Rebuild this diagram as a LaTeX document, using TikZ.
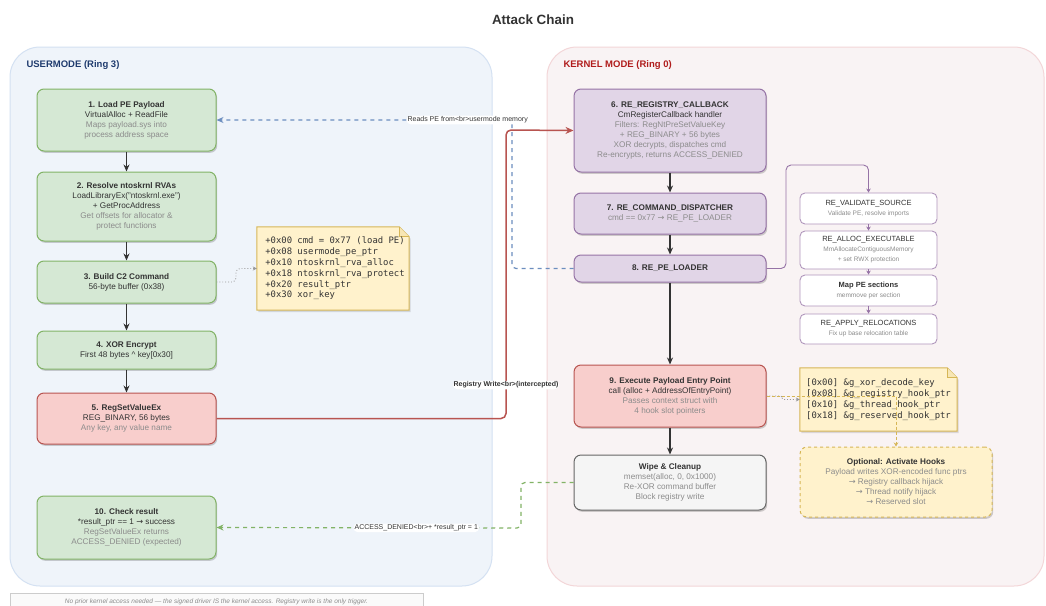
\documentclass[tikz,border=0pt]{standalone}
\usepackage{fontspec}
\setmainfont{Liberation Sans}
\newfontfamily\monof{DejaVu Sans Mono}
\newfontfamily\dvs{DejaVu Sans}
\usetikzlibrary{arrows.meta,shadows}
\definecolor{userfill}{HTML}{EFF4FA}
\definecolor{userline}{HTML}{D4E1F2}
\definecolor{kernfill}{HTML}{F9F3F4}
\definecolor{kernline}{HTML}{F3D6D8}
\definecolor{gfill}{HTML}{D5E8D4}
\definecolor{gline}{HTML}{82B366}
\definecolor{rfill}{HTML}{F8CECC}
\definecolor{rline}{HTML}{B85450}
\definecolor{pfill}{HTML}{E1D5E7}
\definecolor{pline}{HTML}{9673A6}
\definecolor{wfill}{HTML}{F5F5F5}
\definecolor{wline}{HTML}{666666}
\definecolor{yfill}{HTML}{FFF2CC}
\definecolor{yline}{HTML}{D6B656}
\definecolor{txtdark}{HTML}{333333}
\definecolor{txtgray}{HTML}{8C8C8C}
\definecolor{bluel}{HTML}{6C8EBF}
\definecolor{usertitle}{HTML}{1F3B6E}
\definecolor{kerntitle}{HTML}{B01C1C}
\newcommand{\gr}[1]{{\color{txtgray}#1}}
\newcommand{\ar}{{\dvs\char"2192}}
\newcommand{\sml}[1]{{\fontsize{6.5}{10}\selectfont\color{txtgray}#1}}
\pgfdeclarelayer{bg}
\pgfdeclarelayer{notebg}
\pgfsetlayers{bg,notebg,main}
\tikzset{
  base/.style={rounded corners=7pt, line width=1pt, align=center,
    font=\fontsize{8.2}{10}\selectfont, text=txtdark, inner sep=2pt,
    drop shadow={shadow xshift=1.2pt, shadow yshift=-1.8pt, opacity=0.18, fill=black}},
  gbox/.style={base, fill=gfill, draw=gline, minimum width=179pt},
  rbox/.style={base, fill=rfill, draw=rline},
  pbox/.style={base, fill=pfill, draw=pline, minimum width=192pt},
  wbox/.style={base, fill=wfill, draw=wline, minimum width=192pt},
  subbox/.style={rounded corners=5pt, line width=0.9pt, align=center, fill=white, draw=pline!75,
    font=\fontsize{7.5}{10}\selectfont, text=txtdark, minimum width=137pt, inner sep=1pt},
  notebox/.style={align=left, font=\monof\fontsize{8.9}{10.8}\selectfont, text=txtdark, inner sep=0pt},
  optbox/.style={base, fill=yfill, draw=yline, dashed, minimum width=192pt},
  flow/.style={draw=txtdark, line width=1.2pt, -{Stealth[length=7pt,width=6pt]}},
  subflow/.style={draw=pline, line width=0.9pt, -{Stealth[length=4pt,width=4.5pt]}},
  lbl/.style={fill=white, inner sep=1pt, text=txtdark, font=\fontsize{7}{8}\selectfont},
  container/.style={rounded corners=30pt, line width=1pt},
}
\newcommand{\notefold}[1]{%
  \begin{pgfonlayer}{notebg}
  \fill[black, opacity=0.12] ([shift={(1.5pt,-2pt)}]#1.north west) -- ([shift={(-10pt+1.5pt,-2pt)}]#1.north east) -- ([shift={(1.5pt,-12pt)}]#1.north east) -- ([shift={(1.5pt,-2pt)}]#1.south east) -- ([shift={(1.5pt,-2pt)}]#1.south west) -- cycle;
  \draw[fill=yfill, draw=yline, line width=1pt] (#1.north west) -- ([xshift=-10pt]#1.north east) -- ([yshift=-10pt]#1.north east) -- (#1.south east) -- (#1.south west) -- cycle;
  \draw[fill=yfill!80!yline, draw=yline, line width=0.8pt] ([xshift=-10pt]#1.north east) -- ([xshift=-10pt,yshift=-10pt]#1.north east) -- ([yshift=-10pt]#1.north east);
  \end{pgfonlayer}}
\begin{document}
\begin{tikzpicture}[x=1pt,y=-1pt]
\useasboundingbox (0,0) rectangle (1046,605);

% containers
\begin{pgfonlayer}{bg}
\fill[white] (0,0) rectangle (1046,605);
\draw[container, fill=userfill, draw=userline] (10,47) rectangle (492,586);
\draw[container, fill=kernfill, draw=kernline] (547,47) rectangle (1044,586);
\end{pgfonlayer}

% title
\node[font=\bfseries\fontsize{13.4}{15}\selectfont, text=txtdark] (title) at (533,20) {Attack Chain};
\node[anchor=west, font=\bfseries\fontsize{9.5}{11}\selectfont, text=usertitle] (ulabel) at (23,65) {USERMODE (Ring 3)};
\node[anchor=west, font=\bfseries\fontsize{9.5}{11}\selectfont, text=kerntitle] (klabel) at (560,65) {KERNEL MODE (Ring 0)};

% usermode nodes
\node[gbox, minimum height=62pt] (n1) at (126.5,120) {\textbf{1. Load PE Payload}\\VirtualAlloc + ReadFile\\\gr{Maps payload.sys into}\\\gr{process address space}};
\node[gbox, minimum height=69pt] (n2) at (126.5,206.5) {\textbf{2. Resolve ntoskrnl RVAs}\\LoadLibraryEx("ntoskrnl.exe")\\+ GetProcAddress\\\gr{Get offsets for allocator \&}\\\gr{protect functions}};
\node[gbox, minimum height=42pt] (n3) at (126.5,282) {\textbf{3. Build C2 Command}\\56-byte buffer (0x38)};
\node[gbox, minimum height=38pt] (n4) at (126.5,350) {\textbf{4. XOR Encrypt}\\First 48 bytes \textasciicircum{} key[0x30]};
\node[rbox, minimum width=179pt, minimum height=51pt] (n5) at (126.5,418.5) {\textbf{5. RegSetValueEx}\\REG\_BINARY, 56 bytes\\\gr{Any key, any value name}};
\node[gbox, minimum height=63pt] (n10) at (126.5,527.5) {\textbf{10. Check result}\\*result\_ptr == 1 \ar{} success\\\gr{RegSetValueEx returns}\\\gr{ACCESS\_DENIED (expected)}};

\node[notebox, minimum width=152pt, minimum height=83pt] (note1) at (333,268.5) {\hspace*{4pt}+0x00 cmd = 0x77 (load PE)\\\hspace*{4pt}+0x08 usermode\_pe\_ptr\\\hspace*{4pt}+0x10 ntoskrnl\_rva\_alloc\\\hspace*{4pt}+0x18 ntoskrnl\_rva\_protect\\\hspace*{4pt}+0x20 result\_ptr\\\hspace*{4pt}+0x30 xor\_key};
\notefold{note1}

% kernel nodes
\node[pbox, minimum height=83pt] (n6) at (670,130.5) {\textbf{6. RE\_REGISTRY\_CALLBACK}\\CmRegisterCallback handler\\\gr{Filters: RegNtPreSetValueKey}\\\gr{+ REG\_BINARY + 56 bytes}\\\gr{XOR decrypts, dispatches cmd}\\\gr{Re-encrypts, returns ACCESS\_DENIED}};
\node[pbox, minimum height=41pt] (n7) at (670,213.5) {\textbf{7. RE\_COMMAND\_DISPATCHER}\\\gr{cmd == 0x77 \ar{} RE\_PE\_LOADER}};
\node[pbox, minimum height=27pt] (n8) at (670,268.5) {\textbf{8. RE\_PE\_LOADER}};
\node[rbox, minimum width=192pt, minimum height=62pt] (n9) at (670,396) {\textbf{9. Execute Payload Entry Point}\\call (alloc + AddressOfEntryPoint)\\\gr{Passes context struct with}\\\gr{4 hook slot pointers}};
\node[wbox, minimum height=55pt] (wipe) at (670,482.5) {\textbf{Wipe \& Cleanup}\\\gr{memset(alloc, 0, 0x1000)}\\\gr{Re-XOR command buffer}\\\gr{Block registry write}};

\node[subbox, minimum height=31pt] (vs) at (868.5,208.5) {RE\_VALIDATE\_SOURCE\\\sml{Validate PE, resolve imports}};
\node[subbox, minimum height=38pt] (ae) at (868.5,250) {RE\_ALLOC\_EXECUTABLE\\\sml{MmAllocateContiguousMemory}\\\sml{+ set RWX protection}};
\node[subbox, minimum height=31pt] (mp) at (868.5,290.5) {\textbf{Map PE sections}\\\sml{memmove per section}};
\node[subbox, minimum height=30pt] (ar) at (868.5,329) {RE\_APPLY\_RELOCATIONS\\\sml{Fix up base relocation table}};

\node[notebox, minimum width=157pt, minimum height=63pt] (note2) at (878.5,399.5) {{[}0x00{]} \&g\_xor\_decode\_key\\{[}0x08{]} \&g\_registry\_hook\_ptr\\{[}0x10{]} \&g\_thread\_hook\_ptr\\{[}0x18{]} \&g\_reserved\_hook\_ptr};
\notefold{note2}
\node[optbox, minimum height=70pt] (opt) at (896,482) {\textbf{Optional: Activate Hooks}\\\gr{Payload writes XOR-encoded func ptrs}\\\gr{\ar{} Registry callback hijack}\\\gr{\ar{} Thread notify hijack}\\\gr{\ar{} Reserved slot}};

% footer
\node[draw=black!20, fill=black!2, minimum width=413pt, minimum height=18pt, font=\itshape\fontsize{6.5}{8}\selectfont, text=txtgray, inner sep=0pt] (foot) at (216.5,602) {No prior kernel access needed — the signed driver IS the kernel access. Registry write is the only trigger.};

% main flows
\draw[flow] (n1.south) -- (n2.north);
\draw[flow] (n2.south) -- (n3.north);
\draw[flow] (n3.south) -- (n4.north);
\draw[flow] (n4.south) -- (n5.north);
\draw[flow] (n6.south) -- (n7.north);
\draw[flow] (n7.south) -- (n8.north);
\draw[flow] (n8.south) -- (n9.north);
\draw[flow] (n9.south) -- (wipe.north);

% loader sub-steps
\draw[draw=pline, line width=0.9pt, rounded corners=5pt, -{Stealth[length=4pt,width=4.5pt]}] (n8.east) -- (786,268.5) -- (786,165) -- (868.5,165) -- (vs.north);
\draw[subflow] (vs.south) -- (ae.north);
\draw[subflow] (ae.south) -- (mp.north);
\draw[subflow] (mp.south) -- (ar.north);

% note links
\draw[draw=black!40, line width=0.9pt, dotted, rounded corners=4pt, -{Stealth[length=4pt,width=4pt]}] (n3.east) -- (236,282) -- (236,268.5) -- (note1.west);
\draw[draw=black!40, line width=0.9pt, dotted, rounded corners=2pt, -{Stealth[length=4pt,width=4pt]}] (n9.east) -- (782,396) -- (782,399.5) -- (note2.west);
\draw[draw=yline, line width=0.9pt, densely dashed, -{Stealth[length=4pt,width=4.5pt]}] (n9.east) -- (896,396) -- (opt.north);

% cross-ring connectors
\draw[draw=bluel, line width=1.2pt, dash pattern=on 4pt off 4pt, rounded corners=4pt, -{Stealth[length=7pt,width=6pt]}] (n8.west) -- (512,268.5) -- (512,120) -- node[lbl, pos=0.15] (lblread) {Reads PE from<br>usermode memory} (n1.east);
\draw[draw=rline, line width=1.5pt, rounded corners=5pt, -{Stealth[length=8pt,width=7pt]}] (n5.east) -- (506,418.5) -- node[lbl, font=\bfseries\fontsize{7}{8}\selectfont, pos=0.116] (lblreg) {Registry Write<br>(intercepted)} (506,130) -- (n6.west);
\draw[draw=gline, line width=1.2pt, dash pattern=on 4pt off 4pt, rounded corners=4pt, -{Stealth[length=7pt,width=6pt]}] (wipe.west) -- (521,482.5) -- (521,528) -- node[lbl, pos=0.344] (lblacc) {ACCESS\_DENIED<br>+ *result\_ptr = 1} (n10.east);
\end{tikzpicture}
\end{document}
